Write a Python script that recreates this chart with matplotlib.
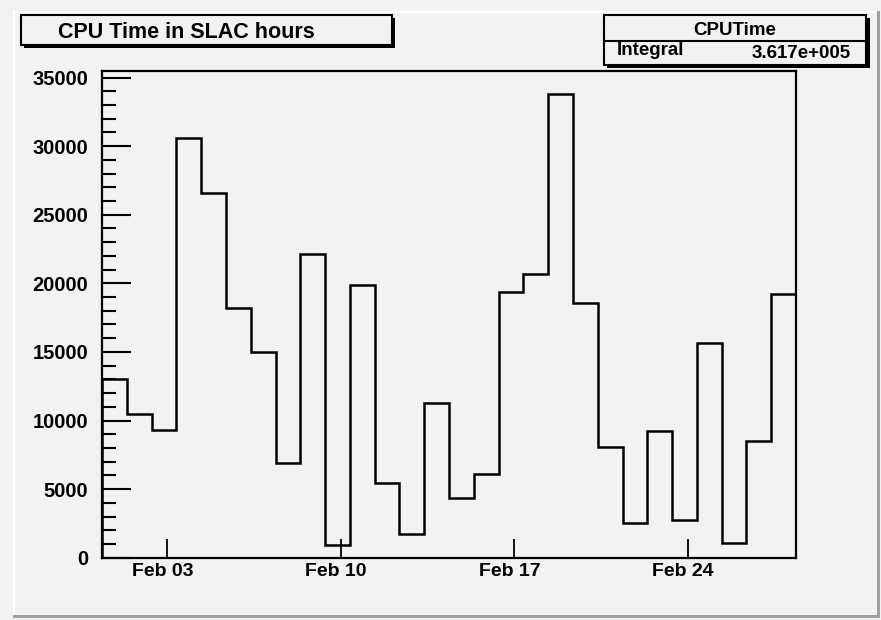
import numpy as np
import matplotlib
matplotlib.use("Agg")
import matplotlib.pyplot as plt
from matplotlib.patches import Rectangle
from matplotlib.lines import Line2D
from matplotlib.ticker import MultipleLocator, FixedLocator
import matplotlib.transforms as mtransforms

plt.rcParams['font.family'] = ['Liberation Sans', 'DejaVu Sans']
plt.rcParams['font.weight'] = 'bold'

# CPU time per day in February (SLAC hours), one bin per day
cpu_hours = [13030, 10480, 9340, 30630, 26620, 18230, 15000, 6920,
             22130, 940, 19860, 5480, 1750, 11300, 4360, 6130,
             19390, 20690, 33790, 18550, 8090, 2560, 9210, 2740,
             15660, 1100, 8530, 19230]
tick_days = [3, 10, 17, 24]
tick_labels = ["Feb 03", "Feb 10", "Feb 17", "Feb 24"]
title = "CPU Time in SLAC hours"
hist_name = "CPUTime"
integral_text = "3.617e+005"

W, H = 881, 620
bg = '#f2f2f2'

fig = plt.figure(figsize=(W / 100, H / 100), dpi=100)
fig.patch.set_facecolor(bg)


def fx(x):
    return x / W


def fy(y):
    return 1 - y / H


def prect(x0, y0, x1, y1, **kw):
    r = Rectangle((fx(x0), fy(y1)), fx(x1) - fx(x0), fy(y0) - fy(y1),
                  transform=fig.transFigure, **kw)
    fig.add_artist(r)
    return r


# pad bevel
prect(13, 11, 880, 618, facecolor='#a0a0a0', edgecolor='none', zorder=0)
prect(13, 11, 877, 615, facecolor='white', edgecolor='none', zorder=0)
prect(15, 13, 877, 615, facecolor=bg, edgecolor='none', zorder=0)

ax_l, ax_r, ax_t, ax_b = 102, 796, 71, 557.7
ax = fig.add_axes([fx(ax_l), fy(ax_b), fx(ax_r) - fx(ax_l), fy(ax_t) - fy(ax_b)])
ax.set_facecolor(bg)

# x axis in days since Feb 01 00:00, first bin starts a bit before Feb 01
t0 = -0.636
edges = t0 + np.arange(len(cpu_hours) + 1)
ax.stairs(cpu_hours, edges, color='black', linewidth=1.8, baseline=0)

ax.set_xlim(edges[0], edges[-1])
ax.set_ylim(0, 1.05 * max(cpu_hours))

ax.xaxis.set_major_locator(FixedLocator([d - 1 for d in tick_days]))
ax.set_xticklabels(tick_labels)
ax.yaxis.set_major_locator(MultipleLocator(5000))
ax.yaxis.set_minor_locator(MultipleLocator(1000))

ax.tick_params(axis='y', which='major', direction='in', length=21, width=1.5,
               labelsize=14.5, pad=10)
ax.tick_params(axis='y', which='minor', direction='in', length=10, width=1.5)
ax.tick_params(axis='x', which='major', direction='in', length=14, width=1.3,
               labelsize=14, pad=4)
for lab in ax.get_xticklabels():
    lab.set_transform(lab.get_transform() +
                      mtransforms.ScaledTranslation(-5 / 100, 0, fig.dpi_scale_trans))

for s in ax.spines.values():
    s.set_linewidth(1.6)

# title box
prect(24, 18, 395, 48, facecolor='black', edgecolor='none', zorder=5)
prect(21, 15, 392, 45, facecolor=bg, edgecolor='black', linewidth=1.5, zorder=6)
fig.text(fx(58), fy(38.5), title, ha='left', va='baseline', fontsize=15.5,
         fontweight='bold', zorder=7)

# stats box
prect(607, 18, 870, 68, facecolor='black', edgecolor='none', zorder=5)
prect(604, 15, 866, 65, facecolor=bg, edgecolor='black', linewidth=1.5, zorder=6)
fig.add_artist(Line2D([fx(604), fx(866)], [fy(41), fy(41)], color='black',
                      linewidth=1.5, transform=fig.transFigure, zorder=7))
fig.text(fx(735), fy(35), hist_name, ha='center', va='baseline', fontsize=13.5,
         fontweight='bold', zorder=7)
fig.text(fx(617), fy(55), "Integral", ha='left', va='baseline', fontsize=13.5,
         fontweight='bold', zorder=7)
fig.text(fx(851), fy(58), integral_text, ha='right', va='baseline', fontsize=13.5,
         fontweight='bold', zorder=7)

fig.savefig("out.png", dpi=100, facecolor=fig.get_facecolor())
